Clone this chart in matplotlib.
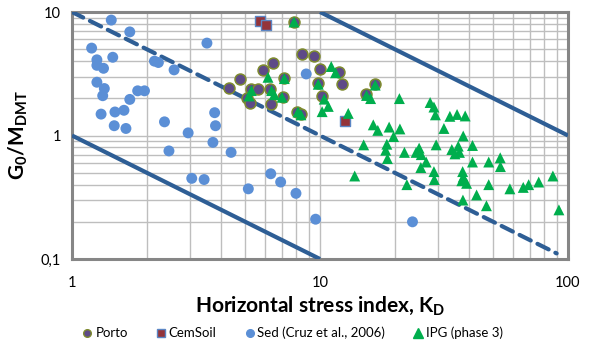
import matplotlib
matplotlib.use("Agg")
import matplotlib.pyplot as plt
from matplotlib.lines import Line2D

plt.rcParams['font.family'] = ['Lato', 'DejaVu Sans']
plt.rcParams['mathtext.fontset'] = 'custom'
plt.rcParams['mathtext.rm'] = 'Lato'
plt.rcParams['mathtext.bf'] = 'Lato:bold'

# ---- data ----
porto_kd = [7.86, 8.46, 9.46, 10.0, 11.9, 6.48, 5.87, 4.76, 4.31, 5.29, 5.62, 7.18,
            6.29, 7.11, 5.06, 5.22, 6.37, 8.11, 8.38, 9.82, 10.2, 12.3, 16.7, 15.3]
porto_g = [8.3, 4.6, 4.43, 3.45, 3.24, 3.86, 3.41, 2.88, 2.42, 2.38, 2.38, 2.92,
           2.38, 2.06, 2.01, 1.83, 1.80, 1.55, 1.48, 2.65, 2.07, 2.61, 2.59, 2.17]

cem_kd = [5.73, 6.03, 12.6]
cem_g = [8.5, 7.85, 1.32]

sed_kd = [1.44, 1.71, 1.20, 1.46, 1.26, 1.26, 1.34, 2.15, 2.23, 2.58, 3.5, 1.26, 1.35,
          1.33, 1.84, 1.96, 1.71, 1.62, 1.49, 1.31, 2.36, 1.48, 1.65, 2.94, 3.76, 3.79,
          3.70, 2.46, 4.38, 8.8, 3.04, 3.41, 6.33, 6.94, 5.14, 8.0, 9.6, 23.6]
sed_g = [8.6, 6.9, 5.1, 4.3, 4.1, 3.7, 3.5, 4.0, 3.9, 3.4, 5.6, 2.7, 2.4,
         2.1, 2.3, 2.3, 1.96, 1.6, 1.55, 1.49, 1.29, 1.2, 1.14, 1.05, 1.53, 1.2,
         0.88, 0.75, 0.73, 3.15, 0.45, 0.44, 0.49, 0.42, 0.37, 0.34, 0.21, 0.20]

ipg_kd = [7.86, 6.17, 7.18, 5.29, 5.17, 6.38, 6.54, 7.03, 8.15, 9.84, 10.2, 11.1, 11.55,
          16.7, 15.4, 16.0, 10.4, 10.8, 13.0, 8.38, 20.9, 27.8, 28.8, 29.2, 33.4, 35.7,
          38.5, 31.6, 37.8, 16.4, 17.1, 19.0, 21.0, 19.8, 15.0, 18.6, 18.4, 18.7, 21.9,
          25.1, 24.4, 25.6, 26.8, 25.5, 29.4, 34.0, 36.1, 35.0, 36.5, 41.2, 41.2, 47.9,
          53.3, 53.4, 28.8, 28.9, 37.6, 37.8, 37.3, 39.0, 13.8, 22.4, 42.8, 47.9, 46.9,
          58.3, 66.0, 69.4, 76.2, 86.9, 91.9, 37.7]
ipg_g = [8.3, 2.96, 2.89, 2.31, 2.09, 2.31, 2.14, 2.04, 1.55, 2.60, 1.56, 3.62, 3.22,
         2.56, 2.11, 1.99, 1.97, 1.72, 1.51, 1.47, 1.99, 1.85, 1.70, 1.47, 1.43, 1.48,
         1.44, 1.14, 0.99, 1.22, 1.10, 1.17, 1.13, 0.98, 0.84, 0.85, 0.76, 0.65, 0.73,
         0.79, 0.73, 0.70, 0.61, 0.55, 0.84, 0.77, 0.82, 0.71, 0.73, 0.83, 0.61, 0.61,
         0.66, 0.56, 0.51, 0.44, 0.51, 0.46, 0.43, 0.41, 0.47, 0.40, 0.33, 0.40, 0.27,
         0.37, 0.38, 0.40, 0.42, 0.47, 0.25, 0.30]

# reference lines
low_x, low_y = [1, 10], [1, 0.1]
mid_x, mid_y = [1, 90], [10, 0.111]
up_x, up_y = [10, 100], [10, 1]

x_ticks = [1, 10, 100]
x_labels = ['1', '10', '100']
y_ticks = [0.1, 1, 10]
y_labels = ['0,1', '1', '10']

# ---- plot ----
fig = plt.figure(figsize=(5.9, 3.47), dpi=100)
ax = fig.add_axes([72/590, 1-259/347, (568-72)/590, (259-12)/347])
ax.set_xscale('log')
ax.set_yscale('log')
ax.set_xlim(1, 100)
ax.set_ylim(0.1, 10)

line_c = '#2E5E95'
ax.plot(low_x, low_y, color=line_c, lw=3.0, solid_capstyle='butt', zorder=3)
ax.plot(up_x, up_y, color=line_c, lw=3.0, solid_capstyle='butt', zorder=3)
ax.plot(mid_x, mid_y, color=line_c, lw=3.0, dashes=(3.0, 1.8), dash_capstyle='round', zorder=3)

s = 62
sed_c = '#5B8FD6'
porto_fc, porto_ec = '#5E4A87', '#7E8B2E'
cem_fc, cem_ec = '#94343A', '#5B86C5'
ipg_c = '#00AE4D'

ax.scatter(sed_kd, sed_g, s=s, color=sed_c, edgecolors='none', zorder=4)
ax.scatter(porto_kd, porto_g, s=s, facecolor=porto_fc, edgecolors=porto_ec, linewidths=1.1, zorder=5)
ax.scatter(cem_kd, cem_g, s=s, marker='s', facecolor=cem_fc, edgecolors=cem_ec, linewidths=1.0, zorder=6)
ax.scatter(ipg_kd, ipg_g, s=s, marker='^', color=ipg_c, edgecolors='none', zorder=7)

ax.grid(True, which='both', color='#BEBEBE', lw=1.0, zorder=0)
ax.set_axisbelow(True)
ax.tick_params(which='both', length=0, labelsize=10.5, pad=8)
ax.set_xticks(x_ticks)
ax.set_xticklabels(x_labels)
ax.set_yticks(y_ticks)
ax.set_yticklabels(y_labels)
ax.tick_params(axis='x', pad=12)
for sp in ax.spines.values():
    sp.set_color('#868686')
    sp.set_linewidth(2.2)

ax.set_xlabel(r'Horizontal stress index, K$_\mathbf{D}$', fontsize=15, fontweight='bold', labelpad=4)
ax.set_ylabel(r'G$_\mathbf{0}$/M$_\mathbf{DMT}$', fontsize=15, fontweight='bold', labelpad=8)

handles = [
    Line2D([], [], ls='none', marker='o', markersize=5.5, markerfacecolor=porto_fc, markeredgecolor=porto_ec, markeredgewidth=1),
    Line2D([], [], ls='none', marker='s', markersize=5.5, markerfacecolor=cem_fc, markeredgecolor=cem_ec, markeredgewidth=1),
    Line2D([], [], ls='none', marker='o', markersize=5.5, markerfacecolor=sed_c, markeredgecolor=sed_c),
    Line2D([], [], ls='none', marker='^', markersize=6.5, markerfacecolor=ipg_c, markeredgecolor=ipg_c),
]
labels = ['Porto', 'CemSoil', 'Sed (Cruz et al., 2006)', 'IPG (phase 3)']
fig.legend(handles, labels, loc='center', bbox_to_anchor=(0.495, 1-333/347), ncol=4,
           frameon=False, fontsize=9.5, handletextpad=0.1, columnspacing=2.0, handlelength=1.0)

fig.savefig('out.png', dpi=100)
